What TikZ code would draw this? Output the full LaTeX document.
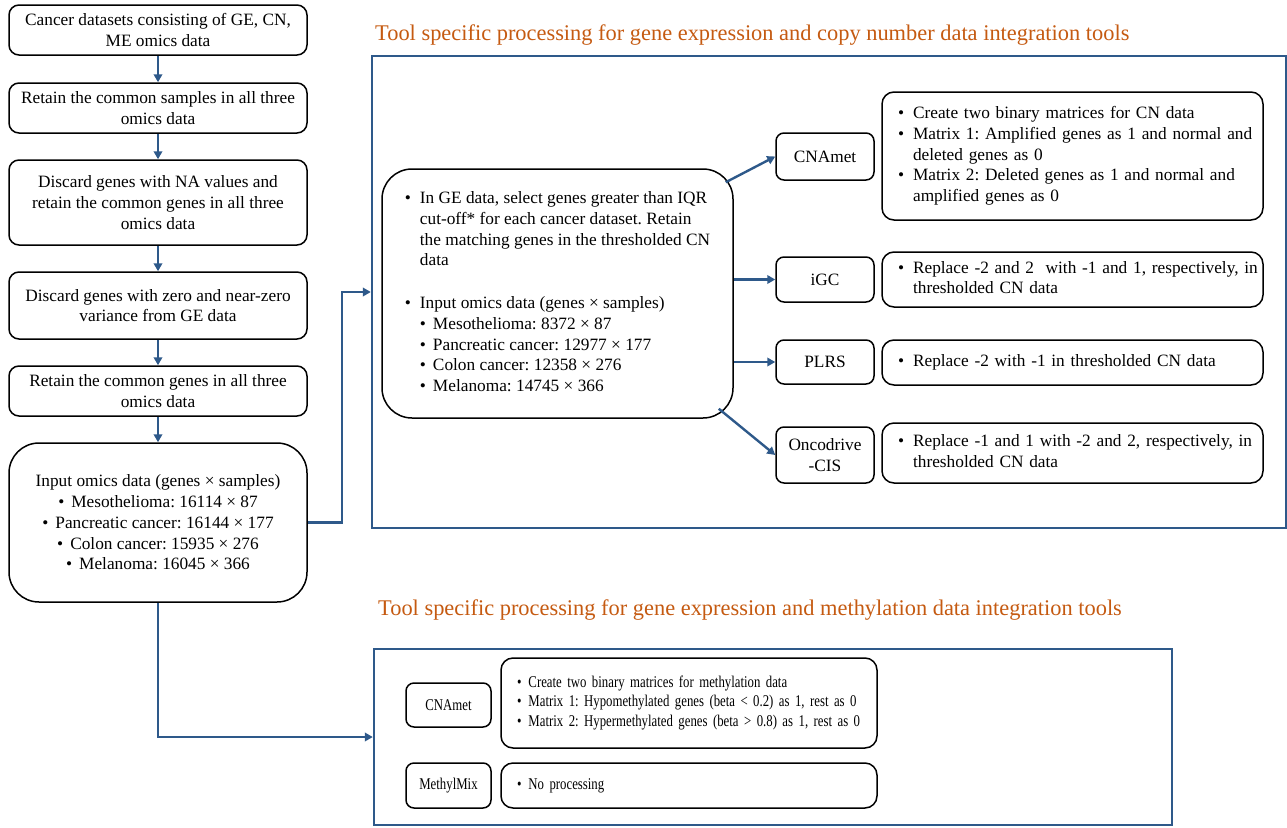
\documentclass[tikz,border=0pt]{standalone}
\usepackage{fontspec}
\setmainfont{Liberation Serif}
\newfontfamily\narrowserif[FakeStretch=0.78]{Liberation Serif}
\usetikzlibrary{arrows.meta}
\definecolor{linkblue}{RGB}{46,89,138}
\definecolor{titleorange}{RGB}{197,90,17}
\frenchspacing

\begin{document}
\begin{tikzpicture}[x=1pt,y=-1pt,
    font=\fontsize{17.3}{20.7}\selectfont,
    stepbox/.style={draw,line width=1.5pt,rounded corners=10pt,minimum width=298pt,align=center,inner sep=2pt},
    toolbox/.style={draw,line width=1.5pt,rounded corners=8pt,align=center,inner sep=2pt},
    notebox/.style={draw,line width=1.5pt,rounded corners=12pt,align=left,inner xsep=16pt,inner ysep=2pt},
    panel/.style={draw=linkblue,line width=2.4pt,inner sep=0pt},
    link/.style={draw=linkblue,line width=2.4pt,-{Triangle[length=8pt,width=8.5pt]}}]

    \useasboundingbox (0,0) rectangle (1287,827);

    % preprocessing steps
    \node[stepbox,minimum height=50pt] (datasets) at (158,30) {Cancer datasets consisting of GE, CN,\\ME omics data};
    \node[stepbox,minimum height=50pt] (samples) at (158,108) {Retain the common samples in all three\\omics data};
    \node[stepbox,minimum height=85pt] (navalues) at (158,202.5) {Discard genes with NA values and\\retain the common genes in all three\\omics data};
    \node[stepbox,minimum height=67pt] (variance) at (158,305.5) {Discard genes with zero and near-zero\\variance from GE data};
    \node[stepbox,minimum height=50pt] (genes) at (158,391) {Retain the common genes in all three\\omics data};
    \node[stepbox,rounded corners=30pt,minimum height=159pt] (input) at (158,522.5) {Input omics data (genes × samples)\\
        \textbullet\hspace{7pt}Mesothelioma: 16114 × 87\\
        \textbullet\hspace{7pt}Pancreatic cancer: 16144 × 177\\
        \textbullet\hspace{7pt}Colon cancer: 15935 × 276\\
        \textbullet\hspace{7pt}Melanoma: 16045 × 366};

    \draw[link] (datasets.south) -- (samples.north);
    \draw[link] (samples.south) -- (navalues.north);
    \draw[link] (navalues.south) -- (variance.north);
    \draw[link] (variance.south) -- (genes.north);
    \draw[link] (genes.south) -- (input.north);

    % gene expression and copy number
    \node[anchor=base west,inner sep=0pt,text=titleorange,font=\fontsize{22.4}{26}\selectfont] (cntitle) at (375,40) {Tool specific processing for gene expression and copy number data integration tools};
    \node[panel,minimum width=914pt,minimum height=472pt] (cnpanel) at (829,292) {};

    \node[draw,line width=1.5pt,rounded corners=30pt,minimum width=351pt,minimum height=249pt] (filtered) at (557.5,293.5) {\begin{tabular}{@{}l@{\hspace{9pt}}l@{}}
        \textbullet & In GE data, select genes greater than IQR\\
        & cut-off* for each cancer dataset. Retain\\
        & the matching genes in the thresholded CN\\
        & data\\[22pt]
        \textbullet & Input omics data (genes × samples)\\
        & \textbullet\hspace{7pt}Mesothelioma: 8372 × 87\\
        & \textbullet\hspace{7pt}Pancreatic cancer: 12977 × 177\\
        & \textbullet\hspace{7pt}Colon cancer: 12358 × 276\\
        & \textbullet\hspace{7pt}Melanoma: 14745 × 366
    \end{tabular}};

    \node[toolbox,minimum width=98pt,minimum height=47pt] (cnamet) at (825,156.5) {CNAmet};
    \node[toolbox,minimum width=98pt,minimum height=45pt] (igc) at (825,279.5) {iGC};
    \node[toolbox,minimum width=98pt,minimum height=44pt] (plrs) at (825,362) {PLRS};
    \node[toolbox,minimum width=98pt,minimum height=56pt] (oncodrive) at (825,455) {Oncodrive\\-CIS};

    \node[notebox,text width=349pt,minimum height=128pt] (cnametnote) at (1072.5,156) {\begin{tabular}{@{}l@{\hspace{9pt}}l@{}}
        \textbullet & Create two binary matrices for CN data\\
        \textbullet & Matrix 1: Amplified genes as 1 and normal and\\
        & deleted genes as 0\\
        \textbullet & Matrix 2: Deleted genes as 1 and normal and\\
        & amplified genes as 0
    \end{tabular}};
    \node[notebox,text width=349pt,minimum height=55pt] (igcnote) at (1072.5,279.5) {\begin{tabular}{@{}l@{\hspace{9pt}}l@{}}
        \textbullet & Replace -2 and 2~ with -1 and 1, respectively, in\\
        & thresholded CN data
    \end{tabular}};
    \node[notebox,text width=349pt,minimum height=45pt] (plrsnote) at (1072.5,362.5) {\begin{tabular}{@{}l@{\hspace{9pt}}l@{}}
        \textbullet & Replace -2 with -1 in thresholded CN data
    \end{tabular}};
    \node[notebox,text width=349pt,minimum height=60pt] (oncodrivenote) at (1072.5,453) {\begin{tabular}{@{}l@{\hspace{9pt}}l@{}}
        \textbullet & Replace -1 and 1 with -2 and 2, respectively, in\\
        & thresholded CN data
    \end{tabular}};

    \draw[link] ([xshift=-8pt,yshift=-14pt]filtered.north east) -- (cnamet.west);
    \draw[link] (igc.west -| filtered.east) -- (igc.west);
    \draw[link] (plrs.west -| filtered.east) -- (plrs.west);
    \draw[link] ([xshift=-15pt,yshift=10pt]filtered.south east) -- (oncodrive.west);

    % gene expression and methylation
    \node[anchor=base west,inner sep=0pt,text=titleorange,font=\fontsize{22.4}{26}\selectfont] (metitle) at (378,615) {Tool specific processing for gene expression and methylation data integration tools};
    \node[panel,minimum width=798pt,minimum height=176pt] (mepanel) at (773,737) {};

    \begin{scope}[font=\narrowserif\fontsize{16.4}{19.5}\selectfont]
        \node[toolbox,minimum width=85pt,minimum height=44pt] (cnametme) at (448.5,705) {CNAmet};
        \node[toolbox,minimum width=85pt,minimum height=45pt] (methylmix) at (448.5,785.5) {MethylMix};
        \node[notebox,text width=344pt,minimum height=90pt] (cnametmenote) at (689,703) {\begin{tabular}{@{}l@{\hspace{7pt}}l@{}}
            \textbullet & Create two binary matrices for methylation data\\
            \textbullet & Matrix 1: Hypomethylated genes (beta < 0.2) as 1, rest as 0\\
            \textbullet & Matrix 2: Hypermethylated genes (beta > 0.8) as 1, rest as 0
        \end{tabular}};
        \node[notebox,text width=344pt,minimum height=45pt] (methylmixnote) at (689,785.5) {\textbullet\hspace{7pt}No processing};
    \end{scope}

    \draw[link] (input.east) -- ++(34,0) |- (cnpanel.west);
    \draw[link] (input.south) |- (mepanel.west);
\end{tikzpicture}
\end{document}
